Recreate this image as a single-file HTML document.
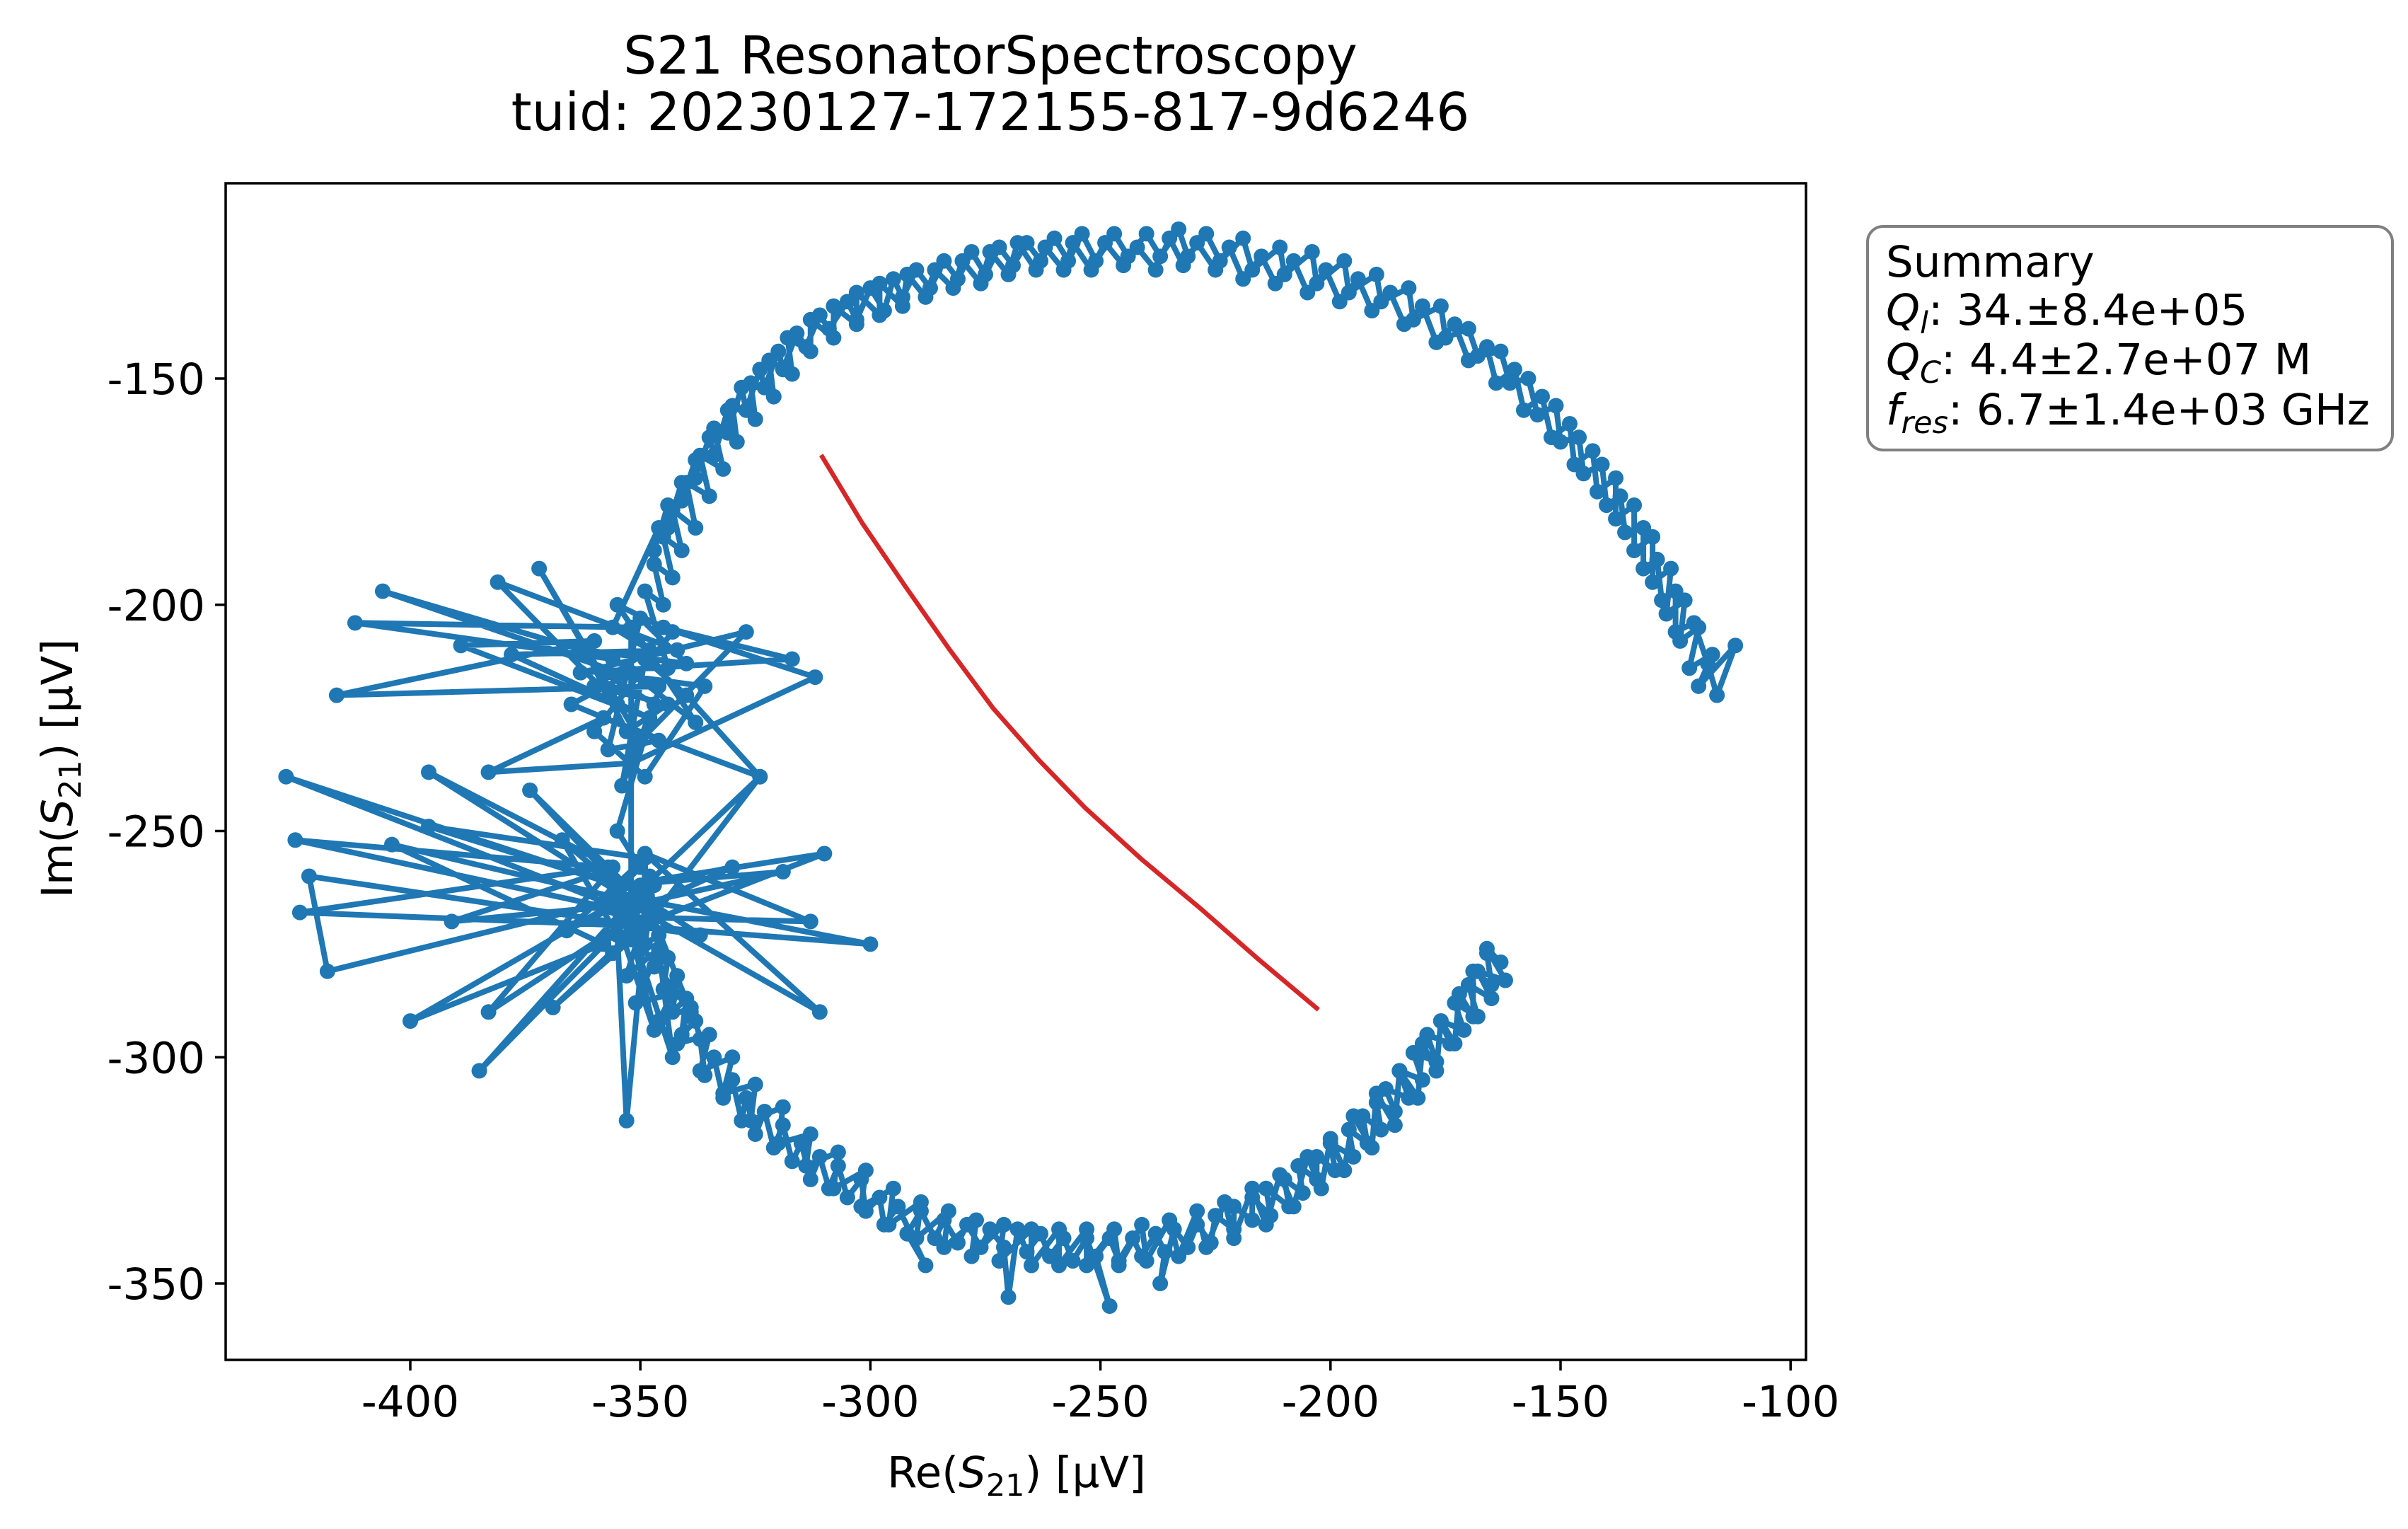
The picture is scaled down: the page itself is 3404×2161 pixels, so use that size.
<!DOCTYPE html>
<html><head><meta charset="utf-8"><style>
html,body{margin:0;padding:0;background:#fff;}
svg{display:block;font-family:"DejaVu Sans","Liberation Sans",sans-serif;}
</style></head><body>
<svg id="chart" width="3404" height="2161" viewBox="0 0 3404 2161" xmlns="http://www.w3.org/2000/svg">
<rect width="3404" height="2161" fill="#fff"/>
<text x="1400" y="104" font-size="74" text-anchor="middle">S21 ResonatorSpectroscopy</text>
<text x="1400" y="184" font-size="74" text-anchor="middle">tuid: 20230127-172155-817-9d6246</text>
<g id="plot"></g>
<rect x="319" y="259" width="2234" height="1663" fill="none" stroke="#000" stroke-width="3.5"/>
<g id="xticks"></g>
<g id="yticks"></g>
<text x="1437" y="2102" font-size="61" text-anchor="middle">Re(<tspan font-style="italic">S</tspan><tspan font-size="43" dy="12">21</tspan><tspan dy="-12">) [µV]</tspan></text>
<text transform="translate(102,1086) rotate(-90)" font-size="61" text-anchor="middle">Im(<tspan font-style="italic">S</tspan><tspan font-size="43" dy="12">21</tspan><tspan dy="-12">) [µV]</tspan></text>
<g>
<rect x="2640" y="320" width="742" height="316" rx="22" fill="#fff" stroke="#808080" stroke-width="4"/>
<text x="2666" y="391" font-size="61">Summary</text>
<text x="2666" y="459" font-size="61"><tspan font-style="italic">Q</tspan><tspan font-style="italic" font-size="43" dy="12">l</tspan><tspan dy="-12">: 34.±8.4e+05</tspan></text>
<text x="2666" y="529" font-size="61"><tspan font-style="italic">Q</tspan><tspan font-style="italic" font-size="43" dy="12">C</tspan><tspan dy="-12">: 4.4±2.7e+07 M</tspan></text>
<text x="2666" y="600" font-size="61"><tspan font-style="italic">f</tspan><tspan font-style="italic" font-size="43" dy="12">res</tspan><tspan dy="-12">: 6.7±1.4e+03 GHz</tspan></text>
</g>
</svg>
<script>
const xTicks=[-400,-350,-300,-250,-200,-150,-100];
const yTicks=[-150,-200,-250,-300,-350];
const dataX=[-163,-166,-162,-168,-165,-170,-168,-173,-171,-176,-174,-179,-177,-182,-180,-185,-183,-188,-186,-190,-189,-193,-192,-196,-195,-200,-199,-203,-203,-207,-206,-210,-209,-214,-213,-217,-217,-221,-221,-225,-226,-229,-231,-234,-237,-236,-238,-241,-243,-246,-248,-251,-248,-253,-256,-258,-261,-263,-266,-268,-270,-271,-274,-276,-279,-281,-284,-286,-289,-292,-288,-294,-297,-298,-301,-302,-305,-307,-309,-311,-313,-315,-317,-319,-321,-323,-325,-327,-328,-330,-332,-334,-336,-337,-338,-341,-340,-343,-342,-345,-344,-347,-346,-349,-348,-351,-350,
-355,-427,-352,-425,-357,-424,-350,-422,-418,-354,-404,-358,-400,-349,-385,-353,-383,-356,-396,-351,-367,-355,-353,-348,-343,-352,-347,-356,-339,-350,-330,-354,-313,-349,-311,-356,-300,-351,-337,-358,-391,-350,-319,-354,-310,-348,-324,-352,-366,-349,-396,-355,-374,-347,-369,-352,
-352,-412,-356,-406,-346,-416,-360,-389,-348,-378,-342,-381,-355,-372,-350,-327,-363,-317,-345,-312,-352,-383,-358,-324,-340,-349,-354,-344,
-349,-345,-347,-343,-345,-341,-343,-338,-340,-335,-337,-332,-334,-329,-330,-325,-326,-321,-322,-317,-318,-313,-313,-308,-308,-303,-303,-298,-298,-293,-292,-288,-286,-282,-280,-276,-274,-270,-268,-264,-262,-258,-256,-252,-249,-245,-242,-238,-235,-232,-229,-225,-222,-219,-215,-212,-208,-205,-201,-198,-194,-191,-187,-184,-180,-177,-173,-170,-166,-164,-160,-158,-154,-152,-148,-147,-143,-142,-138,-138,-134,-134,-130,-130,-126,-127,-123,-124,-120,-122,-117,-120,-112,-116];
const dataY=[-279,-276,-283,-281,-287,-284,-291,-288,-294,-292,-297,-295,-301,-299,-305,-303,-309,-307,-312,-310,-316,-313,-319,-316,-322,-319,-325,-322,-327,-324,-330,-327,-333,-329,-335,-331,-336,-333,-338,-335,-341,-337,-342,-338,-350,-343,-339,-344,-340,-345,-340,-344,-355,-340,-345,-340,-344,-339,-343,-338,-353,-342,-338,-342,-337,-341,-336,-340,-334,-339,-346,-333,-337,-331,-334,-327,-331,-324,-329,-322,-327,-319,-323,-315,-320,-312,-317,-309,-314,-305,-309,-300,-304,-296,-292,-295,-287,-290,-282,-285,-278,-280,-273,-275,-268,-270,-263,
-262,-238,-268,-252,-258,-268,-271,-260,-281,-265,-253,-275,-292,-262,-303,-270,-290,-258,-237,-266,-252,-273,-314,-260,-300,-272,-294,-267,-290,-262,-258,-269,-270,-255,-290,-264,-275,-271,-273,-259,-270,-266,-259,-262,-255,-270,-238,-265,-272,-256,-249,-262,-241,-268,-289,-274,
-205,-204,-212,-197,-218,-220,-208,-209,-225,-211,-210,-195,-222,-192,-230,-206,-215,-212,-205,-216,-235,-237,-225,-238,-220,-212,-240,-214,
-197,-200,-191,-194,-185,-188,-179,-183,-173,-176,-167,-170,-161,-164,-156,-159,-151,-154,-146,-149,-141,-144,-137,-141,-134,-138,-131,-136,-129,-134,-127,-132,-126,-130,-124,-129,-122,-127,-120,-126,-121,-126,-120,-126,-120,-125,-121,-126,-119,-125,-120,-126,-121,-128,-123,-129,-124,-131,-126,-133,-128,-135,-131,-138,-134,-142,-138,-146,-143,-151,-148,-157,-154,-163,-160,-169,-166,-175,-172,-181,-178,-188,-185,-195,-192,-202,-199,-208,-205,-214,-211,-218,-209,-220];
const returnX=[-118,-121,-125,-125,-128,-129,-132,-132,-136,-137,-140,-141,-145,-146,-150,-151,-155,-157,-161,-163,-168,-170,-175,-176,-182,-183,-189,-190,-196,-197,-203,-204,-210,-211,-217,-219,-224,-227,-231,-233,-237,-240,-244,-247,-251,-254,-257,-260,-263,-266,-269,-272,-275,-278,-281,-284,-287,-290,-293,-295,-297,-300,-303,-305,-309,-311,-314,-316,-319,-320,-323,-324,-327,-328,-331,-331,-334,-335,-338,-338,-341,-341,-344,-344,-347,-346,
-356,-348,-360,-344,-353,-362,-340,-350,-357,-346,-365,-352,-338,-355,-343,-360,-349,-336,-358,-347,
-355,-350,-357,-349,-356,-347,-353,-346,-351,
-343,-346,-339,-342,-335,-337,-330,-332,-325,-326,-319,-320,-313,-314,-307,-308,-301,-302,-295,-296,-289,-290,-283,-284,-277,-278,-271,-272,-265,-265,-259,-259,-253,-253,-247,-246,-241,-240,-235,-233,-229,-227,-223,-221,-217,-214,-211,-208,-205,-202,-200,-197,-195,-191,-190,-186,-185,-181,-180,-177,-176,-173,-172,-169,-169,-165,-166];
const returnY=[-213,-204,-206,-197,-199,-190,-192,-183,-184,-176,-178,-169,-171,-163,-164,-156,-158,-150,-151,-144,-145,-139,-141,-134,-137,-130,-133,-127,-131,-124,-129,-122,-127,-121,-126,-119,-124,-118,-123,-117,-123,-118,-123,-118,-124,-118,-124,-119,-124,-120,-125,-121,-127,-122,-128,-124,-130,-126,-132,-128,-135,-130,-137,-133,-139,-136,-143,-140,-148,-144,-152,-148,-157,-152,-162,-157,-167,-163,-172,-168,-177,-173,-183,-178,-188,-183,
-205,-210,-218,-222,-228,-210,-213,-203,-232,-230,-222,-215,-226,-200,-206,-228,-238,-218,-215,-222,
-250,-258,-265,-270,-277,-262,-282,-276,-288,
-286,-292,-289,-297,-295,-303,-300,-308,-306,-314,-311,-319,-317,-324,-321,-329,-325,-333,-329,-337,-332,-340,-334,-342,-336,-344,-337,-345,-338,-346,-338,-346,-338,-346,-338,-346,-337,-345,-336,-344,-334,-342,-332,-340,-329,-337,-326,-333,-322,-329,-318,-325,-313,-320,-308,-315,-303,-309,-297,-303,-292,-297,-286,-291,-281,-284,-277];
const fitX=[-310.7,-301.8,-292.5,-283.0,-273.3,-263.4,-253.3,-241.0,-228.4,-215.6,-202.6];
const fitY=[-166.9,-181.9,-195.8,-209.6,-222.9,-234.3,-244.9,-256.3,-267.0,-278.4,-289.5];
const NS="http://www.w3.org/2000/svg";
function sx(v){return 580+(v+400)*6.504;}
function sy(v){return 535+(-150-v)*6.395;}
function mk(t,a){const e=document.createElementNS(NS,t);for(const k in a)e.setAttribute(k,a[k]);return e;}
const plot=document.getElementById('plot');
const allX=dataX.concat(returnX);
const allY=dataY.concat(returnY);
let d='';
const n=Math.min(allX.length,allY.length);
for(let i=0;i<n;i++){d+=(i?'L':'M')+sx(allX[i]).toFixed(1)+' '+sy(allY[i]).toFixed(1);}
const line=mk('path',{d:d,fill:'none',stroke:'#1f77b4','stroke-width':8,'stroke-linejoin':'round'});


plot.appendChild(line);
for(let i=0;i<n;i++){
 const c=mk('circle',{cx:sx(allX[i]),cy:sy(allY[i]),r:11,fill:'#1f77b4'});
 
 
 plot.appendChild(c);
}
let fd='';
for(let i=0;i<fitX.length;i++){
 fd+=(i?'L':'M')+sx(fitX[i])+' '+sy(fitY[i]);
}
const fit=mk('path',{d:fd,fill:'none',stroke:'#d62728','stroke-width':6.5,'stroke-linejoin':'round'});


plot.appendChild(fit);
const xg=document.getElementById('xticks');
xTicks.forEach(v=>{
 const x=sx(v);
 const t=mk('line',{x1:x,x2:x,y1:1922,y2:1937,stroke:'#000','stroke-width':3.5});
 
 
 xg.appendChild(t);
 const l=mk('text',{x:x,y:2002,'font-size':61,'text-anchor':'middle'});
 
 
 l.textContent=String(v);
 xg.appendChild(l);
});
const yg=document.getElementById('yticks');
yTicks.forEach(v=>{
 const y=sy(v);
 const t=mk('line',{x1:304,x2:319,y1:y,y2:y,stroke:'#000','stroke-width':3.5});
 
 
 yg.appendChild(t);
 const l=mk('text',{x:290,y:y+22,'font-size':61,'text-anchor':'end'});
 
 
 l.textContent=String(v);
 yg.appendChild(l);
});
</script>
</body></html>
